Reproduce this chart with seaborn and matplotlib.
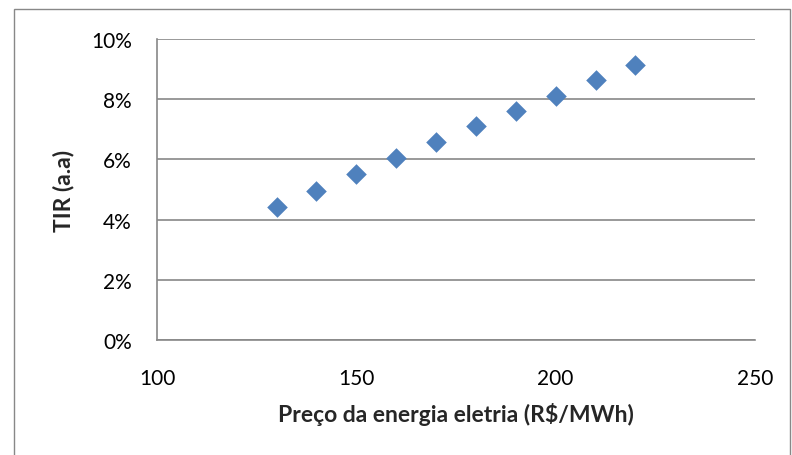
import matplotlib
matplotlib.use("Agg")
import matplotlib.pyplot as plt
import seaborn as sns
import pandas as pd
from matplotlib.ticker import FuncFormatter, MultipleLocator
from matplotlib.patches import Rectangle

preco = [130, 140, 150, 160, 170, 180, 190, 200, 210, 220]
tir = [4.42, 4.95, 5.51, 6.05, 6.58, 7.11, 7.61, 8.12, 8.64, 9.15]

sns.set_style("white")
plt.rcParams['font.family'] = ['Lato', 'DejaVu Sans']

df = pd.DataFrame({"preco": preco, "tir": tir})

fig = plt.figure(figsize=(7.92, 4.56), dpi=100)
ax = fig.add_axes([157/792, 1-341/456, (755-157)/792, (341-40)/456])

sns.scatterplot(data=df, x="preco", y="tir", ax=ax, marker="D", s=110,
                color="#4F81BD", edgecolor="#4F81BD", linewidth=0, zorder=3)

ax.set_xlim(100, 250)
ax.set_ylim(0, 10)
ax.xaxis.set_major_locator(MultipleLocator(50))
ax.yaxis.set_major_locator(MultipleLocator(2))
ax.yaxis.set_major_formatter(FuncFormatter(lambda v, p: f"{v:.0f}%"))
ax.grid(axis="y", color="#888888", linewidth=1.2)
ax.grid(axis="x", visible=False)
for s in ["top", "right"]:
    ax.spines[s].set_visible(False)
for s in ["left", "bottom"]:
    ax.spines[s].set_color("#888888")
    ax.spines[s].set_linewidth(1.2)
ax.tick_params(axis="both", length=0, labelsize=15, colors="black")
ax.tick_params(axis="x", pad=20)
ax.tick_params(axis="y", pad=18)
ax.set_xlabel("Preço da energia eletria (R$/MWh)", fontsize=16.5, fontweight="bold", labelpad=10)
ax.set_ylabel("TIR (a.a)", fontsize=16.5, fontweight="bold", labelpad=12)

fig.patches.append(Rectangle((14/792, -0.01), (790-14)/792, 1-10/456 + 0.01,
                             transform=fig.transFigure, fill=False,
                             edgecolor="#888888", linewidth=1.0))

fig.savefig("out.png", dpi=100)
